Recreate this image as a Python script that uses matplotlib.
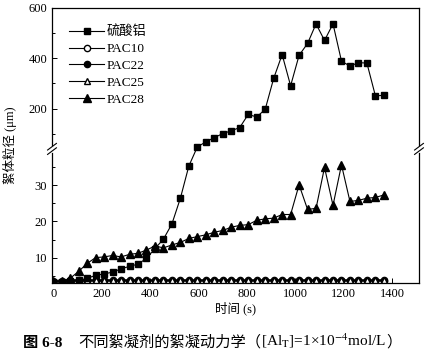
import numpy as np
import matplotlib
matplotlib.use('Agg')
import matplotlib.pyplot as plt

plt.rcParams['font.family'] = ['Liberation Serif', 'Noto Sans CJK SC']
plt.rcParams['mathtext.fontset'] = 'stix'

# time (s)
t = [0, 35, 70, 105, 140, 175, 210, 245, 280, 315,
     350, 385, 420, 455, 490, 525, 560, 595, 630, 665,
     700, 735, 770, 805, 840, 875, 910, 945, 980, 1015,
     1050, 1085, 1120, 1155, 1190, 1225, 1260, 1295, 1330, 1365]

alum = [3.2, 3.3, 3.5, 3.7, 4.3, 5.1, 5.5, 6.0, 6.9, 7.6,
        8.2, 9.8, 12.5, 15.1, 19.3, 26.4, 35.3, 48, 68, 85,
        101, 112, 125, 177, 167, 197, 320, 415, 291, 412,
        459, 537, 471, 537, 389, 369, 383, 381, 251, 253]

pac10 = [3.6, 3.6, 3.7, 3.7, 3.7, 3.7, 3.7, 3.7, 3.7, 3.7,
         3.7, 3.7, 3.7, 3.7, 3.7, 3.7, 3.7, 3.7, 3.7, 3.7,
         3.7, 3.7, 3.7, 3.7, 3.7, 3.7, 3.7, 3.7, 3.7, 3.7,
         3.7, 3.7, 3.7, 3.7, 3.7, 3.7, 3.7, 3.7, 3.7, 3.7]

pac22 = [3.4, 3.4, 3.5, 3.5, 3.5, 3.5, 3.5, 3.5, 3.5, 3.5,
         3.5, 3.5, 3.5, 3.5, 3.5, 3.5, 3.5, 3.5, 3.5, 3.5,
         3.5, 3.5, 3.5, 3.5, 3.5, 3.5, 3.5, 3.5, 3.5, 3.5,
         3.5, 3.5, 3.5, 3.5, 3.5, 3.5, 3.5, 3.5, 3.5, 3.5]

pac25 = [3.7, 3.8, 3.9, 3.9, 3.9, 3.9, 3.9, 3.9, 3.9, 3.9,
         3.9, 3.9, 3.9, 3.9, 3.9, 3.9, 3.9, 3.9, 3.9, 3.9,
         3.9, 3.9, 3.9, 3.9, 3.9, 3.9, 3.9, 3.9, 3.9, 3.9,
         3.9, 3.9, 3.9, 3.9, 3.9, 3.9, 3.9, 3.9, 3.9, 3.9]

pac28 = [3.3, 3.4, 4.3, 6.2, 8.4, 10.0, 10.2, 10.6, 10.2, 10.9,
         11.2, 12.1, 13.2, 12.7, 13.5, 14.2, 15.3, 15.8, 16.3, 17.0,
         17.5, 18.4, 18.9, 19.1, 20.3, 20.7, 20.9, 21.9, 21.9, 30.1,
         23.3, 23.6, 34.9, 24.4, 35.6, 25.5, 25.8, 26.4, 26.6, 27.3]

labels = ['硫酸铝', 'PAC10', 'PAC22', 'PAC25', 'PAC28']

# broken y axis: linear up to 40, compressed above
brk = 40.0
k = 0.25 / 3.6


def fwd(v):
    v = np.asarray(v, dtype=float)
    return np.where(v <= brk, v, brk + (v - brk) * k)


def inv(v):
    v = np.asarray(v, dtype=float)
    return np.where(v <= brk, v, brk + (v - brk) / k)


fig = plt.figure(figsize=(4.26, 3.54), dpi=100)
ax = fig.add_axes([52 / 426, 1 - 283 / 354, 367 / 426, 275 / 354])
ax.set_yscale('function', functions=(fwd, inv))

kw = dict(color='black', lw=0.8)
ax.plot(t, pac10, marker='o', ms=4.5, mfc='white', mec='black', label=labels[1], zorder=2, **kw)
ax.plot(t, pac22, marker='o', ms=4.5, mfc='black', mec='black', label=labels[2], zorder=2, **kw)
ax.plot(t, pac25, marker='^', ms=5, mfc='white', mec='black', label=labels[3], zorder=3, **kw)
ax.plot(t, pac28, marker='^', ms=6, mfc='black', mec='black', label=labels[4], zorder=4, **kw)
ax.plot(t, alum, marker='s', ms=5, mfc='black', mec='black', label=labels[0], zorder=5, **kw)

ax.set_xlim(-5, 1510)
ax.set_ylim(3, 600)
ax.set_xticks([0, 200, 400, 600, 800, 1000, 1200, 1400])
ax.set_xticks(np.arange(100, 1500, 200), minor=True)
ax.set_yticks([10, 20, 30, 200, 400, 600])
ax.set_yticks([5, 15, 25, 35, 100, 300, 500], minor=True)
ax.tick_params(direction='in', which='both', top=False, right=False, labelsize=9)
ax.tick_params(which='major', length=3.5, width=0.7)
ax.tick_params(which='minor', length=2, width=0.7)
for s in ax.spines.values():
    s.set_linewidth(0.9)

# break marks on both spines
yb = (fwd(brk) - fwd(3)) / (fwd(600) - fwd(3))
for xa in (0, 1):
    for dy in (-0.008, 0.008):
        ax.plot([xa - 0.012, xa + 0.012], [yb + dy - 0.012, yb + dy + 0.012],
                transform=ax.transAxes, color='black', lw=0.8, clip_on=False, zorder=10)
    ax.plot([xa, xa], [yb - 0.006, yb + 0.006], transform=ax.transAxes,
            color='white', lw=2, clip_on=False, zorder=9)

ax.set_xlabel('时间 (s)', fontsize=9, labelpad=1)
ax.set_ylabel('絮体粒径 (μm)', fontsize=9, labelpad=8)

h, l = ax.get_legend_handles_labels()
order = [4, 0, 1, 2, 3]
ax.legend([h[i] for i in order], [l[i] for i in order], loc='upper left',
          bbox_to_anchor=(0.015, 0.98), frameon=False, fontsize=9.5,
          handlelength=2.6, labelspacing=0.35, handletextpad=0.25)

# caption
c1 = fig.text(23 / 426, 1 - 347 / 354, '图 6-8', fontsize=11, fontweight='bold', va='baseline')
c2 = fig.text(78 / 426, 1 - 347 / 354, '不同絮凝剂的絮凝动力学（', fontsize=11, va='baseline')
c3 = plt.annotate(r'[Al$_{\mathrm{T}}$]=1×10$^{-4}$mol/L', xy=(1, 0), xycoords=c2,
                  fontsize=11, va='bottom', annotation_clip=False)
c4 = plt.annotate('）', xy=(1, 0), xycoords=c3, fontsize=11, va='bottom', annotation_clip=False)

fig.savefig('out.png', dpi=100)
